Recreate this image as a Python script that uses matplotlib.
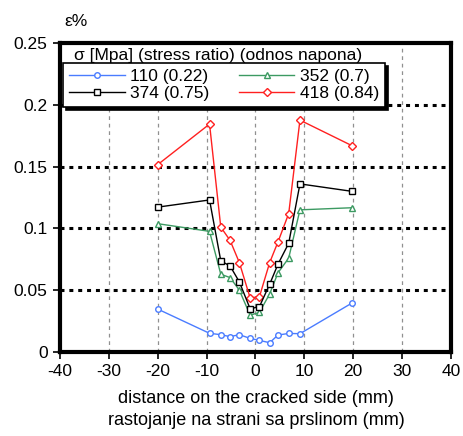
import matplotlib
matplotlib.use("Agg")
import matplotlib.pyplot as plt

plt.rcParams["font.family"] = ["Liberation Sans", "DejaVu Sans"]

# Data
x_mid = [-20, -9.4, -7.1, -5.2, -3.3, -1.1, 0.8, 2.9, 4.6, 6.8, 9.1, 19.7]
strain_110 = [0.0347, 0.0151, 0.014, 0.0124, 0.014, 0.011, 0.0094, 0.0075, 0.0137, 0.015, 0.0148, 0.0395]
strain_352 = [0.1038, 0.0976, 0.0629, 0.0602, 0.050, 0.0298, 0.032, 0.047, 0.064, 0.076, 0.115, 0.1167]
strain_374 = [0.1172, 0.123, 0.0737, 0.0696, 0.0567, 0.035, 0.0366, 0.0548, 0.071, 0.088, 0.136, 0.130]
strain_418 = [0.1516, 0.1844, 0.101, 0.0903, 0.0723, 0.0438, 0.0446, 0.0723, 0.089, 0.112, 0.1876, 0.167]

labels = ["110 (0.22)", "352 (0.7)", "374 (0.75)", "418 (0.84)"]
x_ticks = [-40, -30, -20, -10, 0, 10, 20, 30, 40]
y_ticks = [0, 0.05, 0.1, 0.15, 0.2, 0.25]
y_tick_labels = ["0", "0.05", "0.1", "0.15", "0.2", "0.25"]

fig = plt.figure(figsize=(4.63, 4.36), dpi=100)
ax = fig.add_axes([0.1296, 0.1927, 0.8444, 0.7087])

# Grid lines
for xv in x_ticks[1:-1]:
    ax.axvline(xv, color="#909090", lw=0.9, ls=(0, (3, 3)), zorder=1)
for yv in y_ticks[1:-1]:
    ax.axhline(yv, color="black", lw=2.2, ls=(0, (1.3, 1.6)), zorder=1)

l110, = ax.plot(x_mid, strain_110, color="#4a7cff", lw=1, marker="o", ms=4,
                mfc="white", mew=1, zorder=3)
l352, = ax.plot(x_mid, strain_352, color="#3c9a62", lw=1, marker="^", ms=5,
                mfc="white", mew=1, zorder=3)
l374, = ax.plot(x_mid, strain_374, color="black", lw=1, marker="s", ms=4.5,
                mfc="white", mew=1, zorder=4)
l418, = ax.plot(x_mid, strain_418, color="#ff2020", lw=1, marker="D", ms=4.5,
                mfc="white", mew=1, zorder=3)

ax.set_xlim(-40, 40)
ax.set_ylim(0, 0.25)
ax.set_xticks(x_ticks)
ax.set_xticklabels([str(v) for v in x_ticks])
ax.set_yticks(y_ticks)
ax.set_yticklabels(y_tick_labels)
ax.tick_params(direction="out", length=5, width=1.2, labelsize=12.5, pad=4)

for sp in ax.spines.values():
    sp.set_linewidth(3)

leg = ax.legend([l110, l374, l352, l418], [labels[0], labels[2], labels[1], labels[3]],
                ncol=2, loc="upper left", bbox_to_anchor=(0.008, 0.935),
                fontsize=12.5, frameon=True, fancybox=False,
                shadow={"color": "black", "alpha": 1}, borderpad=0.35,
                labelspacing=0.1, handlelength=3.2, handletextpad=0.3,
                columnspacing=1.7, borderaxespad=0)
leg.get_frame().set_edgecolor("black")
leg.get_frame().set_linewidth(1.2)
leg.set_zorder(10)

ax.text(0.035, 0.985, "σ [Mpa] (stress ratio) (odnos napona)", transform=ax.transAxes,
        fontsize=12.5, va="top", ha="left", zorder=9,
        bbox=dict(facecolor="white", edgecolor="none", pad=1))

fig.text(0.14, 0.95, "ε%", fontsize=12.5, ha="left", va="center")
fig.text(0.553, 0.085, "distance on the cracked side (mm)", fontsize=13,
         ha="center", va="center")
fig.text(0.553, 0.035, "rastojanje na strani sa prslinom (mm)", fontsize=13,
         ha="center", va="center")

fig.savefig("out.png", dpi=100)
